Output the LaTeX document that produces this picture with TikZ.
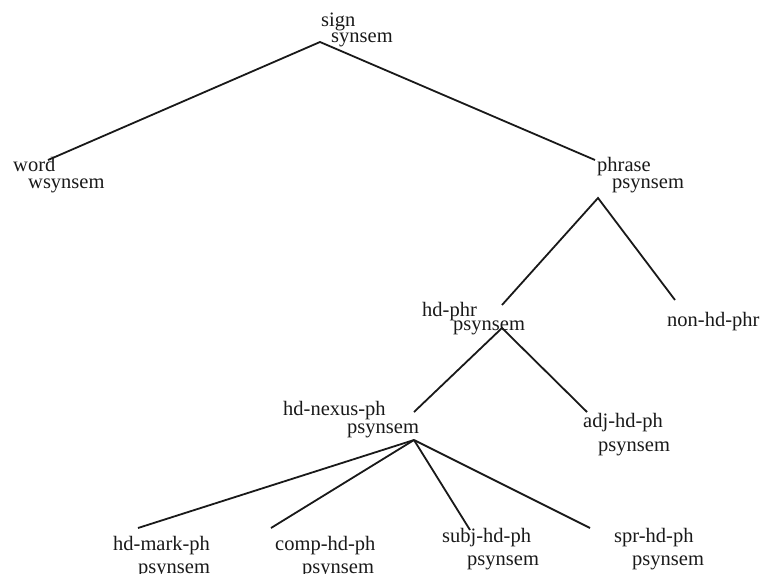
\documentclass[tikz,border=0pt]{standalone}
\usepackage{fontspec}
\setmainfont{Liberation Serif}
\begin{document}
\begin{tikzpicture}[x=1pt,y=-1pt,
  lbl/.style={anchor=base west, inner sep=0pt, text=black!90, font=\fontsize{20.5}{22}\selectfont},
  edge/.style={line width=1.8pt, black!90}]
\useasboundingbox (0,0) rectangle (760,573);
% labels
\node[lbl] (sign) at (321,26) {sign};
\node[lbl] (signT) at (331,42) {synsem};
\node[lbl] (word) at (13,171) {word};
\node[lbl] (wordT) at (28,188) {wsynsem};
\node[lbl] (phrase) at (597,171) {phrase};
\node[lbl] (phraseT) at (612,188) {psynsem};
\node[lbl] (hdphr) at (422,316) {hd-phr};
\node[lbl] (hdphrT) at (453,330) {psynsem};
\node[lbl] (nonhd) at (667,326) {non-hd-phr};
\node[lbl] (nexus) at (283,415) {hd-nexus-ph};
\node[lbl] (nexusT) at (347,433) {psynsem};
\node[lbl] (adj) at (583,427) {adj-hd-ph};
\node[lbl] (adjT) at (598,451) {psynsem};
\node[lbl] (mark) at (113,550) {hd-mark-ph};
\node[lbl] (markT) at (138,573) {psynsem};
\node[lbl] (comp) at (275,550) {comp-hd-ph};
\node[lbl] (compT) at (302,573) {psynsem};
\node[lbl] (subj) at (442,542) {subj-hd-ph};
\node[lbl] (subjT) at (467,565) {psynsem};
\node[lbl] (spr) at (614,542) {spr-hd-ph};
\node[lbl] (sprT) at (632,565) {psynsem};
% connector ends
\coordinate (signA) at (320,42);
\coordinate (wordE) at (48,160);
\coordinate (phraseE) at (595,160);
\coordinate (phraseA) at (598,198);
\coordinate (hdphrE) at (502,305);
\coordinate (hdphrA) at (502,328);
\coordinate (nonhdE) at (675,300);
\coordinate (nexusE) at (414,412);
\coordinate (nexusA) at (414,440);
\coordinate (adjE) at (587,412);
\coordinate (markE) at (138,528);
\coordinate (compE) at (271,528);
\coordinate (subjE) at (470,530);
\coordinate (sprE) at (590,528);
% connectors
\draw[edge] (wordE) -- (signA) -- (phraseE);
\draw[edge] (hdphrE) -- (phraseA) -- (nonhdE);
\draw[edge] (nexusE) -- (hdphrA) -- (adjE);
\draw[edge] (nexusA) -- (markE);
\draw[edge] (nexusA) -- (compE);
\draw[edge] (nexusA) -- (subjE);
\draw[edge] (nexusA) -- (sprE);
\end{tikzpicture}
\end{document}
